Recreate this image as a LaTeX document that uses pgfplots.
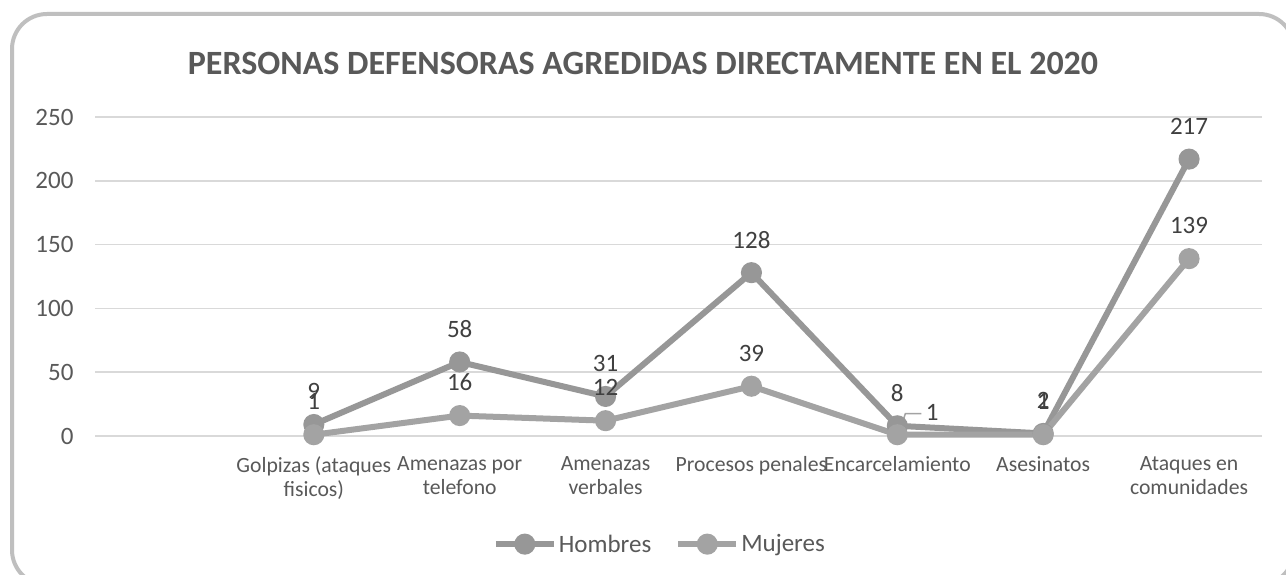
\documentclass[border=0pt]{standalone}
\usepackage{fontspec}
\setmainfont{Carlito}
\usepackage{pgfplots}
\pgfplotsset{compat=1.18}
\definecolor{hom}{HTML}{979797}
\definecolor{muj}{HTML}{A3A3A3}
\definecolor{txt}{HTML}{595959}
\definecolor{lbl}{HTML}{404040}
\definecolor{gridc}{HTML}{D9D9D9}
\definecolor{framec}{HTML}{BFBFBF}
\begin{document}
\begin{tikzpicture}[x=1pt,y=1pt]
\clip (0,0) rectangle (1286,575);
\fill[white] (0,0) rectangle (1286,575);
\draw[framec, line width=4pt, rounded corners=35pt] (12,561) rectangle (1294,-10);
\node[txt, font=\fontsize{34}{40}\selectfont\bfseries] at (643,512) {PERSONAS DEFENSORAS AGREDIDAS DIRECTAMENTE EN EL 2020};
\begin{axis}[
  at={(95pt,139pt)}, anchor=south west,
  scale only axis, width=1167pt, height=319pt,
  xmin=-0.5, xmax=7.5, ymin=0, ymax=250,
  ytick={0,50,...,250},
  xtick={0,...,7},
  xticklabels={{},{Golpizas (ataques\\fisicos)},{Amenazas por\\telefono},{Amenazas\\verbales},{Procesos penales},{Encarcelamiento},{Asesinatos},{Ataques en\\comunidades}},
  xticklabel style={align=center, anchor=north, font=\fontsize{21.7}{24}\selectfont, text=txt, yshift=-17pt},
  yticklabel style={anchor=east, font=\fontsize{25}{28}\selectfont, text=txt, xshift=-18pt},
  /pgf/number format/assume math mode=true,
  ymajorgrids, grid style={gridc, line width=1.5pt},
  axis line style={draw=none},
  major tick length=0pt,
  clip=false,
  legend columns=2,
  legend style={at={(0.484,-0.339)}, anchor=center, draw=none, fill=none,
    font=\fontsize{25}{28}\selectfont, text=txt,
    /tikz/every even column/.append style={column sep=22pt}},
  legend image code/.code={\draw[mark repeat=2, mark phase=2, #1] plot coordinates {(0pt,0pt) (29pt,0pt) (58pt,0pt)};},
  every node near coord/.append style={font=\fontsize{25}{28}\selectfont, text=lbl, anchor=center, yshift=33pt},
]
\addplot[hom, line width=6pt, mark=*, mark size=7.5pt, mark options={fill=hom, draw=hom},
  nodes near coords, point meta=explicit symbolic]
  coordinates {(1,9) [9] (2,58) [58] (3,31) [31] (4,128) [128] (5,8) [8] (6,2) [2] (7,217) [217]};
\addlegendentry{Hombres}
\addplot[muj, line width=6pt, mark=*, mark size=7.5pt, mark options={fill=muj, draw=muj},
  nodes near coords, point meta=explicit symbolic]
  coordinates {(1,1) [1] (2,16) [16] (3,12) [12] (4,39) [39] (5,1) [] (6,1) [1] (7,139) [139]};
\addlegendentry{Mujeres}
\draw[muj, line width=1.5pt] ([shift={(2pt,3pt)}]axis cs:5,1) -- ([shift={(8pt,21pt)}]axis cs:5,1) -- ([shift={(24pt,21pt)}]axis cs:5,1);
\node[lbl, font=\fontsize{25}{28}\selectfont] at ([shift={(35pt,22pt)}]axis cs:5,1) {1};
\end{axis}
\end{tikzpicture}
\end{document}
